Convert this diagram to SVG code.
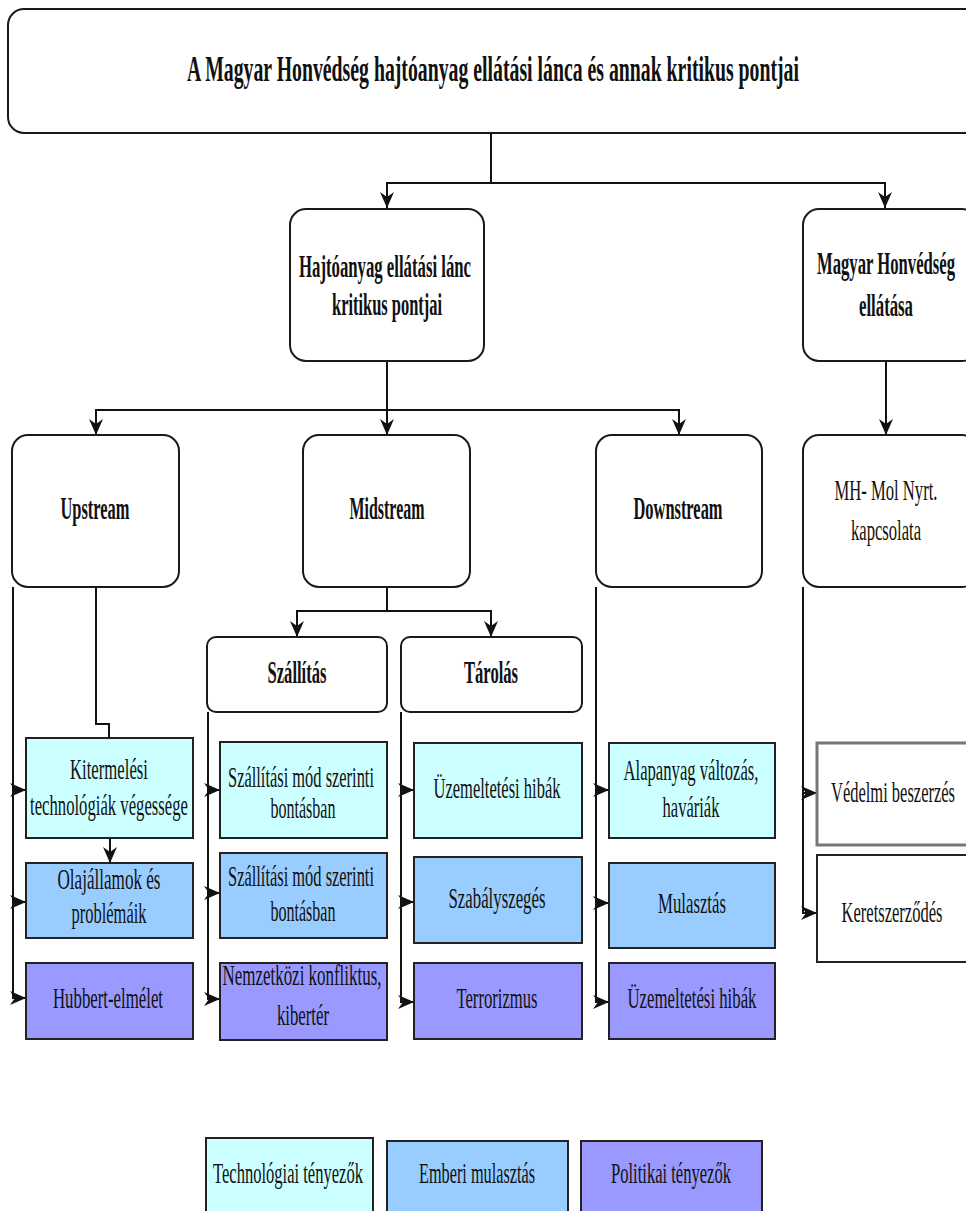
<svg xmlns="http://www.w3.org/2000/svg" width="966" height="1211" viewBox="0 0 966 1211">
<style>
.r{fill:#fff;stroke:#1a1a1a;stroke-width:2}
.b{stroke:#222;stroke-width:2}
.c1{fill:#CCFFFF}.c2{fill:#99CCFF}.c3{fill:#9999FF}.w{fill:#fff}
text{font-family:"Liberation Serif","Times New Roman",serif;text-anchor:middle;fill:#111}
.t{font-size:36px;font-weight:bold}
.h{font-size:31px;font-weight:bold}
.n{font-size:29px}
.e{fill:none;stroke:#111;stroke-width:2}
</style>
<defs>
<marker id="a" markerWidth="17" markerHeight="14" refX="16" refY="7" orient="auto" markerUnits="userSpaceOnUse">
<path d="M0,0 L16,7 L0,14 L5,7 z" fill="#111"/>
</marker>
</defs>
<g id="connectors">
<path class="e" d="M491 133 V183 H387 V208" marker-end="url(#a)"/>
<path class="e" d="M491 133 V183 H885 V208" marker-end="url(#a)"/>
<path class="e" d="M387 361 V410 H96 V435" marker-end="url(#a)"/>
<path class="e" d="M387 361 V435" marker-end="url(#a)"/>
<path class="e" d="M387 361 V410 H679 V435" marker-end="url(#a)"/>
<path class="e" d="M886 361 V435" marker-end="url(#a)"/>
<path class="e" d="M387 587 V611 H297 V637" marker-end="url(#a)"/>
<path class="e" d="M387 587 V611 H491 V637" marker-end="url(#a)"/>
<path class="e" d="M96 587 V724 H109 V737"/>
<path class="e" d="M110 838 V863" marker-end="url(#a)"/>
<path class="e" d="M13 587 V790 H26" marker-end="url(#a)"/>
<path class="e" d="M13 587 V902 H26" marker-end="url(#a)"/>
<path class="e" d="M13 587 V998 H26" marker-end="url(#a)"/>
<path class="e" d="M208 712 V790 H220" marker-end="url(#a)"/>
<path class="e" d="M208 712 V893 H220" marker-end="url(#a)"/>
<path class="e" d="M208 712 V999 H220" marker-end="url(#a)"/>
<path class="e" d="M401 712 V790 H414" marker-end="url(#a)"/>
<path class="e" d="M401 712 V902 H414" marker-end="url(#a)"/>
<path class="e" d="M401 712 V1002 H414" marker-end="url(#a)"/>
<path class="e" d="M596 587 V790 H609" marker-end="url(#a)"/>
<path class="e" d="M596 587 V903 H609" marker-end="url(#a)"/>
<path class="e" d="M596 587 V1002 H609" marker-end="url(#a)"/>
<path class="e" d="M803 587 V793 H817" marker-end="url(#a)"/>
<path class="e" d="M803 587 V913 H817" marker-end="url(#a)"/>
</g>
<g id="title"><rect class="r" x="8" y="9" width="975" height="124" rx="16"/>
<text class="t" x="493" y="81" textLength="612" lengthAdjust="spacingAndGlyphs">A Magyar Honvédség hajtóanyag ellátási lánca és annak kritikus pontjai</text></g>
<g id="hajto"><rect class="r" x="290" y="209" width="194" height="152" rx="16"/>
<text class="h" x="385" y="277" textLength="172" lengthAdjust="spacingAndGlyphs">Hajtóanyag ellátási lánc</text>
<text class="h" x="387" y="315" textLength="110" lengthAdjust="spacingAndGlyphs">kritikus pontjai</text></g>
<g id="mh"><rect class="r" x="803" y="209" width="175" height="152" rx="16"/>
<text class="h" x="886" y="274" textLength="138" lengthAdjust="spacingAndGlyphs">Magyar Honvédség</text>
<text class="h" x="886" y="316" textLength="54" lengthAdjust="spacingAndGlyphs">ellátása</text></g>
<g id="upstream"><rect class="r" x="12" y="435" width="167" height="152" rx="16"/>
<text class="h" x="95" y="519" textLength="69" lengthAdjust="spacingAndGlyphs">Upstream</text></g>
<g id="midstream"><rect class="r" x="303" y="435" width="167" height="152" rx="16"/>
<text class="h" x="387" y="519" textLength="75" lengthAdjust="spacingAndGlyphs">Midstream</text></g>
<g id="downstream"><rect class="r" x="596" y="435" width="166" height="152" rx="16"/>
<text class="h" x="678" y="519" textLength="89" lengthAdjust="spacingAndGlyphs">Downstream</text></g>
<g id="mhmol"><rect class="r" x="803" y="435" width="175" height="152" rx="16"/>
<text class="n" x="886" y="500" textLength="103" lengthAdjust="spacingAndGlyphs">MH- Mol Nyrt.</text>
<text class="n" x="886" y="540" textLength="70" lengthAdjust="spacingAndGlyphs">kapcsolata</text></g>
<g id="szallitas"><rect class="r" x="207" y="637" width="180" height="75" rx="9"/>
<text class="h" x="297" y="683" textLength="59" lengthAdjust="spacingAndGlyphs">Szállítás</text></g>
<g id="tarolas"><rect class="r" x="401" y="637" width="181" height="75" rx="9"/>
<text class="h" x="491" y="683" textLength="54" lengthAdjust="spacingAndGlyphs">Tárolás</text></g>
<g id="kitermelesi"><rect class="b c1" x="26" y="738" width="167" height="100"/>
<text class="n" x="109" y="779" textLength="78" lengthAdjust="spacingAndGlyphs">Kitermelési</text>
<text class="n" x="109" y="815" textLength="158" lengthAdjust="spacingAndGlyphs">technológiák végessége</text></g>
<g id="olajallamok"><rect class="b c2" x="26" y="863" width="167" height="75"/>
<text class="n" x="109" y="889" textLength="103" lengthAdjust="spacingAndGlyphs">Olajállamok és</text>
<text class="n" x="109" y="923" textLength="75" lengthAdjust="spacingAndGlyphs">problémáik</text></g>
<g id="hubbert"><rect class="b c3" x="26" y="963" width="167" height="76"/>
<text class="n" x="108" y="1008" textLength="110" lengthAdjust="spacingAndGlyphs">Hubbert-elmélet</text></g>
<g id="szall1"><rect class="b c1" x="220" y="742" width="167" height="96"/>
<text class="n" x="301" y="787" textLength="146" lengthAdjust="spacingAndGlyphs">Szállítási mód szerinti</text>
<text class="n" x="303" y="818" textLength="65" lengthAdjust="spacingAndGlyphs">bontásban</text></g>
<g id="szall2"><rect class="b c2" x="220" y="853" width="167" height="85"/>
<text class="n" x="301" y="886" textLength="146" lengthAdjust="spacingAndGlyphs">Szállítási mód szerinti</text>
<text class="n" x="303" y="921" textLength="65" lengthAdjust="spacingAndGlyphs">bontásban</text></g>
<g id="nemzetkozi"><rect class="b c3" x="220" y="963" width="167" height="77"/>
<text class="n" x="302" y="985" textLength="159" lengthAdjust="spacingAndGlyphs">Nemzetközi konfliktus,</text>
<text class="n" x="303" y="1025" textLength="52" lengthAdjust="spacingAndGlyphs">kibertér</text></g>
<g id="uzem1"><rect class="b c1" x="414" y="743" width="168" height="95"/>
<text class="n" x="497" y="798" textLength="127" lengthAdjust="spacingAndGlyphs">Üzemeltetési hibák</text></g>
<g id="szabaly"><rect class="b c2" x="414" y="857" width="168" height="86"/>
<text class="n" x="497" y="908" textLength="97" lengthAdjust="spacingAndGlyphs">Szabályszegés</text></g>
<g id="terror"><rect class="b c3" x="414" y="963" width="168" height="76"/>
<text class="n" x="497" y="1008" textLength="81" lengthAdjust="spacingAndGlyphs">Terrorizmus</text></g>
<g id="alapanyag"><rect class="b c1" x="609" y="743" width="166" height="95"/>
<text class="n" x="691" y="780" textLength="135" lengthAdjust="spacingAndGlyphs">Alapanyag változás,</text>
<text class="n" x="691" y="817" textLength="57" lengthAdjust="spacingAndGlyphs">haváriák</text></g>
<g id="mulasztas"><rect class="b c2" x="609" y="863" width="166" height="85"/>
<text class="n" x="692" y="913" textLength="68" lengthAdjust="spacingAndGlyphs">Mulasztás</text></g>
<g id="uzem2"><rect class="b c3" x="609" y="963" width="166" height="76"/>
<text class="n" x="692" y="1008" textLength="129" lengthAdjust="spacingAndGlyphs">Üzemeltetési hibák</text></g>
<g id="vedelmi"><rect class="b w" x="817" y="743" width="160" height="102" style="stroke:#777;stroke-width:3"/>
<text class="n" x="893" y="802" textLength="124" lengthAdjust="spacingAndGlyphs">Védelmi beszerzés</text></g>
<g id="keret"><rect class="b w" x="817" y="855" width="160" height="107"/>
<text class="n" x="892" y="922" textLength="101" lengthAdjust="spacingAndGlyphs">Keretszerződés</text></g>
<g id="legend-tech"><rect class="b c1" x="206" y="1138" width="167" height="90"/>
<text class="n" x="288" y="1183" textLength="150" lengthAdjust="spacingAndGlyphs">Technológiai tényezők</text></g>
<g id="legend-emberi"><rect class="b c2" x="387" y="1141" width="181" height="90"/>
<text class="n" x="477" y="1183" textLength="116" lengthAdjust="spacingAndGlyphs">Emberi mulasztás</text></g>
<g id="legend-pol"><rect class="b c3" x="581" y="1141" width="181" height="90"/>
<text class="n" x="671" y="1183" textLength="120" lengthAdjust="spacingAndGlyphs">Politikai tényezők</text></g>
</svg>
